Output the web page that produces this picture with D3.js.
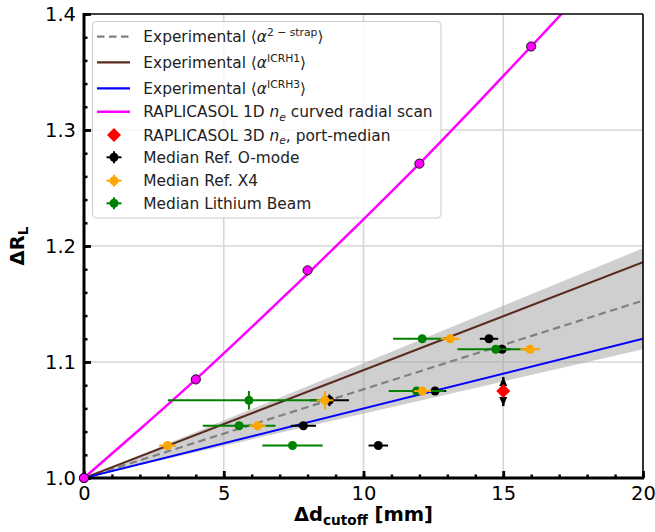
<!DOCTYPE html>
<html><head><meta charset="utf-8">
<script src="https://cdn.jsdelivr.net/npm/d3@7"></script>
<style>body{margin:0;background:#fff} svg{display:block} text{font-family:"DejaVu Sans",sans-serif}</style>
</head><body><svg id="c" width="655" height="532"></svg>
<script>
// ---- data ----
const magentaX=[0,4,8,12,16];
const magentaY=[1.0,1.085,1.179,1.271,1.372];
const curveX=[0,2,4,6,8,10,12,14,16,18,20];
const curveY=[1.0,1.042,1.085,1.130,1.176,1.223,1.271,1.321,1.372,1.424,1.478];
const lineX=[0,20];
const strap2Y=[1.0,1.153];
const icrh1Y=[1.0,1.186];
const icrh3Y=[1.0,1.120];
const bandLowY=[1.0,1.111];
const bandHighY=[1.0,1.198];
const omodeX=[8.78,7.85,10.53,14.49,14.96,12.56];
const omodeY=[1.067,1.045,1.028,1.120,1.111,1.075];
const omodeXerr=[0.7,0.45,0.35,0.33,0.3,0.4];
const omodeYerr=[0.005,0,0,0,0,0];
const x4X=[8.62,6.21,2.99,13.1,15.96,12.11];
const x4Y=[1.067,1.045,1.028,1.120,1.111,1.075];
const x4Xerr=[0.3,0.3,0.3,0.33,0.35,0.3];
const x4Yerr=[0.008,0,0,0,0,0];
const liX=[5.9,5.55,7.46,12.1,14.73,11.9];
const liY=[1.067,1.045,1.028,1.120,1.111,1.075];
const liXerr=[2.9,1.3,1.08,1.04,1.37,1.0];
const liYerr=[0.008,0,0,0,0,0];
const rdX=[15], rdY=[1.075], rdYLow=[1.062], rdYHigh=[1.087];
const xTicks=[0,5,10,15,20];
const xTickLabels=["0","5","10","15","20"];
const yTicks=[1.0,1.1,1.2,1.3,1.4];
const yTickLabels=["1.0","1.1","1.2","1.3","1.4"];
const xMinor=d3.range(0,21,1);
const yMinor=d3.range(1.0,1.4001,0.02);

// ---- layout ----
const L=84,R=643,T=14,B=478;
const svg=d3.select("#c");
const x=d3.scaleLinear().domain([0,20]).range([L,R]);
const y=d3.scaleLinear().domain([1.0,1.4]).range([B,T]);

svg.append("defs").append("clipPath").attr("id","clip")
  .append("rect").attr("x",L).attr("y",T).attr("width",R-L).attr("height",B-T);

// grid
const grid=svg.append("g");
grid.selectAll(".gx").data(xTicks.slice(1,-1)).enter().append("line")
  .attr("x1",d=>x(d)).attr("x2",d=>x(d)).attr("y1",T).attr("y2",B)
  .attr("stroke","#d6d6d6").attr("stroke-width",1.6);
grid.selectAll(".gy").data(yTicks.slice(1,-1)).enter().append("line")
  .attr("y1",d=>y(d)).attr("y2",d=>y(d)).attr("x1",L).attr("x2",R)
  .attr("stroke","#d6d6d6").attr("stroke-width",1.6);

// legend group (below data marks)
const lg=svg.append("g");

const plot=svg.append("g").attr("clip-path","url(#clip)");
// band
const bandData=lineX.map((v,i)=>({x:v,lo:bandLowY[i],hi:bandHighY[i]}));
plot.append("path").datum(bandData)
  .attr("d",d3.area().x(d=>x(d.x)).y0(d=>y(d.lo)).y1(d=>y(d.hi)))
  .attr("fill","#a0a0a0").attr("fill-opacity",0.5);
function drawLine(xs,ys,color,w,dash,curve){
  const l=d3.line().x(d=>x(d[0])).y(d=>y(d[1]));
  if(curve) l.curve(curve);
  const p=plot.append("path").datum(xs.map((v,i)=>[v,ys[i]])).attr("d",l)
    .attr("fill","none").attr("stroke",color).attr("stroke-width",w);
  if(dash) p.attr("stroke-dasharray",dash);
}
drawLine(lineX,strap2Y,"#808080",2.2,"7.5,4.5");
drawLine(lineX,icrh1Y,"#5a2a20",2);
drawLine(lineX,icrh3Y,"#0000ff",2);
drawLine(curveX,curveY,"#ff00ff",2.5,null,d3.curveMonotoneX);

// errorbar series
function drawErr(xs,ys,xe,ye,color){
  const g=svg.append("g");
  xs.forEach((v,i)=>{
    if(xe[i]>0) g.append("line").attr("x1",x(v-xe[i])).attr("x2",x(v+xe[i]))
      .attr("y1",y(ys[i])).attr("y2",y(ys[i])).attr("stroke",color).attr("stroke-width",2);
    if(ye[i]>0) g.append("line").attr("x1",x(v)).attr("x2",x(v))
      .attr("y1",y(ys[i]-ye[i])).attr("y2",y(ys[i]+ye[i])).attr("stroke",color).attr("stroke-width",2);
  });
  g.selectAll("circle").data(xs).enter().append("circle")
    .attr("cx",d=>x(d)).attr("cy",(d,i)=>y(ys[i])).attr("r",4.5).attr("fill",color);
}
drawErr(omodeX,omodeY,omodeXerr,omodeYerr,"#000000");
drawErr(liX,liY,liXerr,liYerr,"#008000");
drawErr(x4X,x4Y,x4Xerr,x4Yerr,"#ffa500");

// magenta points
svg.append("g").selectAll("circle").data(magentaX).enter().append("circle")
  .attr("cx",d=>x(d)).attr("cy",(d,i)=>y(magentaY[i])).attr("r",4.6)
  .attr("fill","#ff00ff").attr("stroke","#000").attr("stroke-width",0.9);

// red diamond with black arrow error
const rg=svg.append("g");
rdX.forEach((v,i)=>{
  const cx=x(v), yt=y(rdYHigh[i]), yb=y(rdYLow[i]);
  rg.append("line").attr("x1",cx).attr("x2",cx).attr("y1",yt).attr("y2",yb)
    .attr("stroke","#000").attr("stroke-width",2.5);
  rg.append("path").attr("d",`M${cx},${yt}L${cx+4},${yt+9}L${cx-4},${yt+9}Z`).attr("fill","#000");
  rg.append("path").attr("d",`M${cx},${yb}L${cx+4},${yb-9}L${cx-4},${yb-9}Z`).attr("fill","#000");
  const cy=y(rdY[i]), s=7;
  rg.append("path").attr("d",`M${cx},${cy-s}L${cx+s},${cy}L${cx},${cy+s}L${cx-s},${cy}Z`).attr("fill","#ff0000");
});

// axes ticks (inward)
const fs=19.5;
const xa=svg.append("g").attr("transform",`translate(0,${B})`)
  .call(d3.axisBottom(x).tickValues(xMinor).tickSize(-3.5).tickFormat(""));
xa.selectAll("line").attr("stroke","#000").attr("stroke-width",2.5);
const xA=svg.append("g").attr("transform",`translate(0,${B})`)
  .call(d3.axisBottom(x).tickValues(xTicks).tickSize(-7).tickPadding(8).tickFormat((d,i)=>xTickLabels[i]));
xA.selectAll("line").attr("stroke","#000").attr("stroke-width",2.8);
xA.selectAll("text").attr("font-size",fs).attr("fill","#000").attr("font-family","DejaVu Sans");
const ya=svg.append("g").attr("transform",`translate(${L},0)`)
  .call(d3.axisLeft(y).tickValues(yMinor).tickSize(-3.5).tickFormat(""));
ya.selectAll("line").attr("stroke","#000").attr("stroke-width",2.5);
const yA=svg.append("g").attr("transform",`translate(${L},0)`)
  .call(d3.axisLeft(y).tickValues(yTicks).tickSize(-7).tickPadding(8).tickFormat((d,i)=>yTickLabels[i]));
yA.selectAll("line").attr("stroke","#000").attr("stroke-width",2.8);
yA.selectAll("text").attr("font-size",fs).attr("fill","#000").attr("font-family","DejaVu Sans");
svg.selectAll(".domain").remove();

// spines
svg.append("line").attr("x1",L).attr("x2",R).attr("y1",T).attr("y2",T).attr("stroke","#000").attr("stroke-width",1.6);
svg.append("line").attr("x1",R).attr("x2",R).attr("y1",T).attr("y2",B).attr("stroke","#000").attr("stroke-width",1.6);
svg.append("line").attr("x1",L).attr("x2",L).attr("y1",T-1).attr("y2",B+1.5).attr("stroke","#000").attr("stroke-width",3);
svg.append("line").attr("x1",L-1.5).attr("x2",R+1).attr("y1",B).attr("y2",B).attr("stroke","#000").attr("stroke-width",3);

// redraw origin magenta point over spines
svg.append("circle").attr("cx",x(magentaX[0])).attr("cy",y(magentaY[0])).attr("r",4.6)
  .attr("fill","#ff00ff").attr("stroke","#000").attr("stroke-width",0.9);

// rich text helper
function rich(sel,segs,size){
  let cur=0;
  segs.forEach(s=>{
    const t=sel.append("tspan").text(s.t);
    let target=0;
    if(s.sup) target=-size*0.4;
    if(s.sub) target=size*0.22;
    t.attr("dy",target-cur); cur=target;
    if(s.sup||s.sub) t.attr("font-size",size*0.7);
    if(s.i) t.attr("font-style","italic");
  });
}

// axis labels
const xl=svg.append("text").attr("x",(L+R)/2).attr("y",521).attr("text-anchor","middle")
  .attr("font-size",fs).attr("font-weight","bold");
rich(xl,[{t:"Δd"},{t:"cutoff",sub:true},{t:" [mm]"}],fs);
const yl=svg.append("text").attr("transform",`translate(24,${(T+B)/2}) rotate(-90)`)
  .attr("text-anchor","middle").attr("font-size",fs).attr("font-weight","bold");
rich(yl,[{t:"ΔR"},{t:"L",sub:true}],fs);

// legend
lg.append("rect").attr("x",92.5).attr("y",21.5).attr("width",348.5).attr("height",196.5).attr("rx",4)
  .attr("fill","#fff").attr("fill-opacity",0.8).attr("stroke","#cccccc").attr("stroke-width",1);
const legendLabels=[
  [{t:"Experimental ⟨"},{t:"α",i:true},{t:"2 − strap",sup:true},{t:"⟩"}],
  [{t:"Experimental ⟨"},{t:"α",i:true},{t:"ICRH1",sup:true},{t:"⟩"}],
  [{t:"Experimental ⟨"},{t:"α",i:true},{t:"ICRH3",sup:true},{t:"⟩"}],
  [{t:"RAPLICASOL 1D "},{t:"n",i:true},{t:"e",i:true,sub:true},{t:" curved radial scan"}],
  [{t:"RAPLICASOL 3D "},{t:"n",i:true},{t:"e",i:true,sub:true},{t:", port-median"}],
  [{t:"Median Ref. O-mode"}],
  [{t:"Median Ref. X4"}],
  [{t:"Median Lithium Beam"}]
];
const legendKinds=["dash","brown","blue","magenta","diamond","err","err","err"];
const legendColors=["#808080","#5a2a20","#0000ff","#ff00ff","#ff0000","#000000","#ffa500","#008000"];
const rowY=[36.7,62.3,88.3,111.7,135,157.3,180.7,203.3];
const lfs=15.4, hx0=97, hx1=130, hxm=114;
legendKinds.forEach((k,i)=>{
  const yy=rowY[i], c=legendColors[i];
  if(k==="dash"||k==="brown"||k==="blue"||k==="magenta"){
    const l=lg.append("line").attr("x1",hx0).attr("x2",hx1).attr("y1",yy).attr("y2",yy)
      .attr("stroke",c).attr("stroke-width",k==="magenta"?2.5:2.2);
    if(k==="dash") l.attr("stroke-dasharray","7.5,4.5");
  } else if(k==="diamond"){
    const s=7;
    lg.append("path").attr("d",`M${hxm},${yy-s}L${hxm+s},${yy}L${hxm},${yy+s}L${hxm-s},${yy}Z`).attr("fill",c);
  } else {
    lg.append("line").attr("x1",hxm-7.5).attr("x2",hxm+7.5).attr("y1",yy).attr("y2",yy).attr("stroke",c).attr("stroke-width",2);
    lg.append("line").attr("x1",hxm).attr("x2",hxm).attr("y1",yy-6).attr("y2",yy+6).attr("stroke",c).attr("stroke-width",2);
    lg.append("circle").attr("cx",hxm).attr("cy",yy).attr("r",4.5).attr("fill",c);
  }
  const t=lg.append("text").attr("x",143.3).attr("y",yy+5.6).attr("font-size",lfs).attr("fill","#222");
  rich(t,legendLabels[i],lfs);
});
</script></body></html>
